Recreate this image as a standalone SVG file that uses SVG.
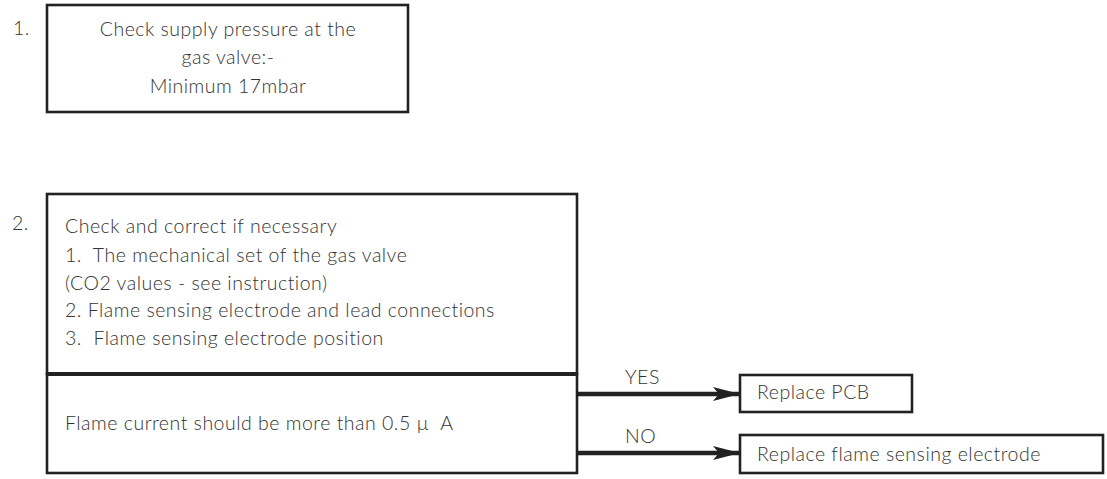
<svg xmlns="http://www.w3.org/2000/svg" width="1107" height="479" viewBox="0 0 1107 479">
<defs>
<style>
text{font-family:"Lato","Liberation Sans",sans-serif;font-weight:300;font-size:19.5px;letter-spacing:0.5px;fill:#333;white-space:pre}
.box{fill:#fff;stroke:#222;stroke-width:2.6}
.conn{stroke:#222;stroke-width:4.5;fill:none}
</style>
<marker id="ah" markerWidth="27" markerHeight="14" refX="27" refY="7" orient="auto" markerUnits="userSpaceOnUse">
<path d="M0,0 L27,7 L0,14 L6,7 Z" fill="#222"/>
</marker>
</defs>
<rect width="1107" height="479" fill="#fff"/>
<text x="13" y="35">1.</text>
<g id="n1">
<rect class="box" x="47" y="5" width="361" height="107"/>
<text x="228" y="36" text-anchor="middle">Check supply pressure at the</text>
<text x="228" y="64" text-anchor="middle">gas valve:-</text>
<text x="228" y="93" text-anchor="middle">Minimum 17mbar</text>
</g>
<text x="12" y="230">2.</text>
<g id="n2">
<rect class="box" x="47" y="194" width="530" height="180"/>
<text x="65" y="233">Check and correct if necessary</text>
<text x="65" y="262" xml:space="preserve">1.  The mechanical set of the gas valve</text>
<text x="65" y="290">(CO2 values - see instruction)</text>
<text x="65" y="317">2. Flame sensing electrode and lead connections</text>
<text x="65" y="345" xml:space="preserve">3.  Flame sensing electrode position</text>
</g>
<g id="n3">
<rect class="box" x="47" y="374" width="530" height="99"/>
<line x1="47" y1="374" x2="577" y2="374" stroke="#222" stroke-width="4"/>
<text x="65" y="430" xml:space="preserve">Flame current should be more than 0.5 µ  A</text>
</g>
<g id="n4">
<rect class="box" x="740" y="375" width="172" height="37"/>
<text x="757" y="399">Replace PCB</text>
</g>
<g id="n5">
<rect class="box" x="740" y="435" width="363" height="38"/>
<text x="757" y="461">Replace flame sensing electrode</text>
</g>
<g id="connectors">
<line class="conn" x1="577" y1="394" x2="740" y2="394" marker-end="url(#ah)"/>
<line class="conn" x1="577" y1="453" x2="740" y2="453" marker-end="url(#ah)"/>
<text x="625" y="384">YES</text>
<text x="625" y="443">NO</text>
</g>
</svg>
